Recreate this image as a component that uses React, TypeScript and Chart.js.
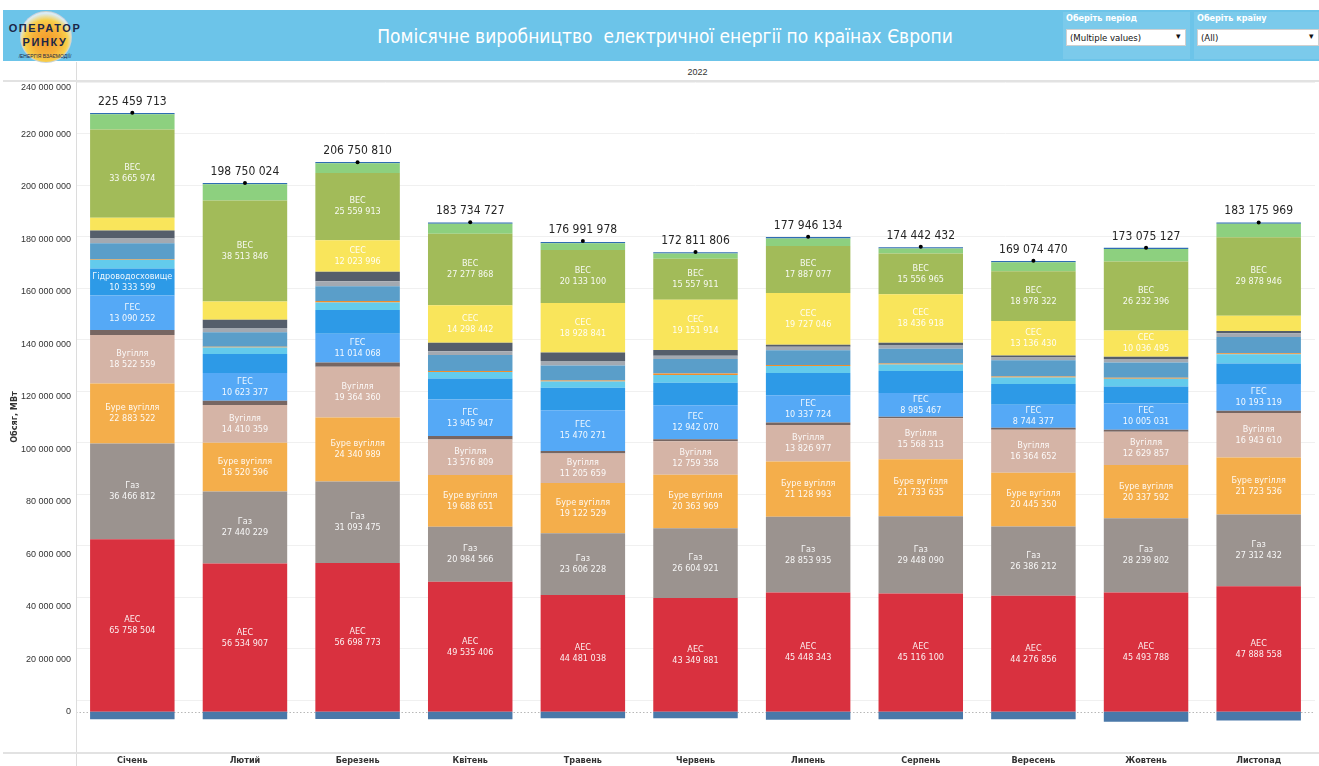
import React, { useEffect, useRef } from "react";
import { Chart, registerables } from "chart.js";

Chart.register(...registerables);

// ---------- DATA ----------
const months = ["Січень", "Лютий", "Березень", "Квітень", "Травень", "Червень", "Липень", "Серпень", "Вересень", "Жовтень", "Листопад"];
const totals = [225459713, 198750024, 206750810, 183734727, 176991978, 172811806, 177946134, 174442432, 169074470, 173075127, 183175969];

const aes = [65758504, 56534907, 56698773, 49535406, 44481038, 43349881, 45448343, 45116100, 44276856, 45493788, 47888558];
const gas = [36466812, 27440229, 31093475, 20984566, 23606228, 26604921, 28853935, 29448090, 26386212, 28239802, 27312432];
const lignite = [22883522, 18520596, 24340989, 19688651, 19122529, 20363969, 21128993, 21733635, 20445350, 20337592, 21723536];
const coal = [18522559, 14410359, 19364360, 13576809, 11205659, 12759358, 13826977, 15568313, 16364652, 12629857, 16943610];
const oil = [1900000, 1600000, 1600000, 1300000, 1000000, 800000, 1000000, 600000, 800000, 800000, 900000];
const hydro = [13090252, 10623377, 11014068, 13945947, 15470271, 12942070, 10337724, 8985467, 8744377, 10005031, 10193119];
const reservoir = [10333599, 7200000, 9000000, 8000000, 8600000, 8600000, 8500000, 8400000, 7900000, 6500000, 7800000];
const pumped = [3300000, 2500000, 2900000, 2500000, 2400000, 2900000, 2700000, 2500000, 2500000, 2900000, 3500000];
const geothermal = [300000, 300000, 500000, 300000, 400000, 600000, 400000, 400000, 400000, 400000, 400000];
const biomass = [6000000, 5500000, 5700000, 6100000, 5700000, 5500000, 5600000, 5600000, 6200000, 5800000, 6200000];
const waste = [1800000, 1600000, 1900000, 1500000, 1700000, 1300000, 1300000, 1400000, 1000000, 1300000, 1400000];
const otherFossil = [3100000, 3200000, 3600000, 3200000, 3200000, 2200000, 800000, 900000, 800000, 900000, 900000];
const solar = [4800000, 6900000, 12023996, 14298442, 18928841, 19151914, 19727046, 18436918, 13136430, 10036495, 5800000];
const wind = [33665974, 38513846, 25559913, 27277868, 20133100, 15557911, 17887077, 15556965, 18978322, 26232396, 29878946];
const windOffshore = [5800000, 6200000, 3700000, 3800000, 2600000, 2000000, 2900000, 1900000, 3400000, 4800000, 5100000];
const other = [500000, 500000, 500000, 500000, 500000, 500000, 500000, 500000, 500000, 500000, 500000];
const storageConsumption = [-2800000, -2800000, -2700000, -2800000, -2400000, -2400000, -3050000, -2800000, -2800000, -3800000, -3300000];

const yTicks = [0, 20000000, 40000000, 60000000, 80000000, 100000000, 120000000, 140000000, 160000000, 180000000, 200000000, 220000000, 240000000];

const NARROW = "'Liberation Sans Narrow', 'DejaVu Sans Condensed', 'Noto Sans', sans-serif";
const SANS = "'Liberation Sans', Arial, sans-serif";

const fmt = (v: number) => Math.round(v).toString().replace(/\B(?=(\d{3})+(?!\d))/g, " ");

type SeriesDef = { name: string; data: number[]; color: string; label?: string; labelMin?: number };

const series: SeriesDef[] = [
  { name: "Споживання ГАЕС", data: storageConsumption, color: "#4a78a9" },
  { name: "АЕС", data: aes, color: "#d9313f", label: "АЕС", labelMin: 8500000 },
  { name: "Газ", data: gas, color: "#9b938f", label: "Газ", labelMin: 8500000 },
  { name: "Буре вугілля", data: lignite, color: "#f4ae4b", label: "Буре вугілля", labelMin: 8500000 },
  { name: "Вугілля", data: coal, color: "#d5b4a6", label: "Вугілля", labelMin: 8500000 },
  { name: "Нафта", data: oil, color: "#776662" },
  { name: "ГЕС", data: hydro, color: "#55a9f6", label: "ГЕС", labelMin: 8500000 },
  { name: "Гідроводосховище", data: reservoir, color: "#2d9ae7", label: "Гідроводосховище", labelMin: 10000000 },
  { name: "ГАЕС", data: pumped, color: "#63cbec" },
  { name: "Геотермальні", data: geothermal, color: "#f28e2b" },
  { name: "Біомаса", data: biomass, color: "#5a9ec9" },
  { name: "Відходи", data: waste, color: "#a3a9b1" },
  { name: "Інше викопне", data: otherFossil, color: "#555e6b" },
  { name: "СЕС", data: solar, color: "#f9e55b", label: "СЕС", labelMin: 8500000 },
  { name: "ВЕС", data: wind, color: "#a2bb59", label: "ВЕС", labelMin: 8500000 },
  { name: "ВЕС офшор", data: windOffshore, color: "#8dd07f" },
  { name: "Інше", data: other, color: "#2f6db3" },
];

const segLabelPlugin = {
  id: "segLabels",
  afterDatasetsDraw(chart: any) {
    const ctx = chart.ctx;
    ctx.save();
    ctx.textAlign = "center";
    ctx.textBaseline = "middle";
    ctx.fillStyle = "rgba(255,255,255,0.92)";
    ctx.font = `9px ${NARROW}`;
    chart.data.datasets.forEach((ds: any, i: number) => {
      if (!ds.segLabel) return;
      const meta = chart.getDatasetMeta(i);
      meta.data.forEach((el: any, j: number) => {
        const v = ds.data[j];
        if (v < ds.segLabelMin) return;
        const p = el.getProps(["x", "y", "base"], true);
        const cy = (p.y + p.base) / 2;
        ctx.fillText(ds.segLabel, p.x, cy - 5.5);
        ctx.fillText(fmt(v), p.x, cy + 5.5);
      });
    });
    // totals
    const dotIdx = chart.data.datasets.findIndex((d: any) => d.isDots);
    if (dotIdx >= 0) {
      const meta = chart.getDatasetMeta(dotIdx);
      ctx.fillStyle = "#262626";
      ctx.font = `12px ${NARROW}`;
      ctx.textBaseline = "alphabetic";
      meta.data.forEach((el: any, j: number) => {
        const p = el.getProps(["x", "y"], true);
        ctx.fillText(fmt(totals[j]), p.x, p.y - 8);
      });
    }
    ctx.restore();
  },
  beforeDatasetsDraw(chart: any) {
    const ctx = chart.ctx;
    const y = chart.scales.y;
    const area = chart.chartArea;
    const y0 = y.getPixelForValue(0);
    ctx.save();
    ctx.strokeStyle = "#b8b8b8";
    ctx.lineWidth = 1;
    ctx.setLineDash([1.5, 2]);
    ctx.beginPath();
    ctx.moveTo(area.left, Math.round(y0) + 0.5);
    ctx.lineTo(area.right, Math.round(y0) + 0.5);
    ctx.stroke();
    ctx.restore();
  },
  afterDraw(chart: any) {
    const ctx = chart.ctx;
    const y = chart.scales.y;
    const area = chart.chartArea;
    ctx.save();
    // y tick labels
    ctx.fillStyle = "#333333";
    ctx.font = `9px ${SANS}`;
    ctx.textAlign = "right";
    ctx.textBaseline = "middle";
    yTicks.forEach((t) => {
      let py = y.getPixelForValue(t);
      py = Math.max(py, area.top + 6);
      ctx.fillText(fmt(t), 71, py);
    });
    // axis title
    ctx.save();
    ctx.translate(15, (area.top + area.bottom) / 2);
    ctx.rotate(-Math.PI / 2);
    ctx.textAlign = "center";
    ctx.font = `bold 9px ${NARROW}`;
    ctx.fillText("Обсяг, МВт", 0, 0);
    ctx.restore();
    // axis lines
    ctx.strokeStyle = "#dcdcdc";
    ctx.lineWidth = 1;
    ctx.beginPath();
    ctx.moveTo(area.left + 0.5, 0);
    ctx.lineTo(area.left + 0.5, chart.height);
    ctx.stroke();
    ctx.strokeStyle = "#e2e2e2";
    ctx.lineWidth = 2;
    ctx.beginPath();
    ctx.moveTo(3, area.bottom + 1);
    ctx.lineTo(chart.width, area.bottom + 1);
    ctx.moveTo(3, area.top - 1);
    ctx.lineTo(chart.width, area.top - 1);
    ctx.stroke();
    ctx.restore();
  },
};

function ChartView() {
  const ref = useRef<HTMLCanvasElement | null>(null);
  useEffect(() => {
    if (!ref.current) return;
    const datasets: any[] = series.map((s) => ({
      type: "bar",
      label: s.name,
      data: s.data,
      backgroundColor: s.color,
      borderWidth: 0,
      stack: "main",
      order: 1,
      barPercentage: 0.75,
      categoryPercentage: 1.0,
      segLabel: s.label,
      segLabelMin: s.labelMin,
    }));
    datasets.push({
      type: "line",
      label: "Всього",
      data: totals.map((t, i) => t - storageConsumption[i]),
      stack: "dots",
      order: 0,
      showLine: false,
      pointRadius: 2,
      pointBackgroundColor: "#000",
      pointBorderColor: "#000",
      pointBorderWidth: 0,
      isDots: true,
    });
    const chart = new Chart(ref.current, {
      type: "bar",
      data: { labels: months, datasets },
      options: {
        responsive: false,
        animation: false,
        layout: { padding: { top: 20, left: 0, right: 0, bottom: 0 } },
        plugins: { legend: { display: false }, tooltip: { enabled: false } },
        scales: {
          x: {
            stacked: true,
            grid: { display: false, drawTicks: false },
            border: { display: false },
            ticks: {
              color: "#333333",
              font: { family: NARROW, size: 9, weight: "bold" },
              padding: 3,
              maxRotation: 0,
              autoSkip: false,
            },
            afterFit: (s: any) => {
              s.height = 14;
            },
          },
          y: {
            stacked: true,
            min: -15300000,
            max: 240000000,
            ticks: { display: false, stepSize: 20000000 },
            grid: {
              color: (c: any) => (c.tick && c.tick.value > 0 ? "#f0f0f0" : "rgba(0,0,0,0)"),
              drawTicks: false,
            },
            border: { display: false },
            afterFit: (s: any) => {
              s.width = 76;
            },
          },
        },
      } as any,
      plugins: [segLabelPlugin],
    });
    return () => chart.destroy();
  }, []);
  return <canvas ref={ref} width={1319} height={704} style={{ width: 1319, height: 704, display: "block" }} />;
}

export default function App() {
  return (
    <div style={{ position: "absolute", left: 0, top: 0, width: 1319, height: 766, background: "#fff", overflow: "hidden", fontFamily: SANS }}>
      {/* header band */}
      <div style={{ position: "absolute", left: 3, top: 10, width: 1316, height: 51, background: "#6cc4e9" }} />
      {/* logo */}
      <div style={{ position: "absolute", left: 20, top: 11, width: 50, height: 50, borderRadius: "50%", border: "1px solid rgba(200,210,220,0.9)", background: "radial-gradient(circle at 50% 58%, #f39a2a 0%, #f6b13a 35%, #f8cf4a 55%, rgba(230,240,245,0.9) 72%)" }} />
      <div style={{ position: "absolute", left: 4, top: 22, width: 82, textAlign: "center", fontSize: 11, fontWeight: "bold", color: "#1c2747", letterSpacing: 1.6, fontFamily: SANS }}>ОПЕРАТОР</div>
      <div style={{ position: "absolute", left: 4, top: 36, width: 82, textAlign: "center", fontSize: 11, fontWeight: "bold", color: "#1c2747", letterSpacing: 1.6, fontFamily: SANS }}>РИНКУ</div>
      <div style={{ position: "absolute", left: 4, top: 53, width: 82, textAlign: "center", fontSize: 5, color: "#1c2747", fontFamily: SANS, whiteSpace: "nowrap" }}>/ЕНЕРГІЯ ВЗАЄМОДІЇ/</div>
      {/* title */}
      <div style={{ position: "absolute", left: 265, top: 25, width: 800, textAlign: "center", fontSize: 19, color: "#ffffff", fontFamily: NARROW, whiteSpace: "pre" }}>
        {"Помісячне виробництво  електричної енергії по країнах Європи"}
      </div>
      {/* filters */}
      <div style={{ position: "absolute", left: 1063, top: 12, width: 127, height: 47, background: "rgba(255,255,255,0.1)" }} />
      <div style={{ position: "absolute", left: 1194, top: 12, width: 125, height: 47, background: "rgba(255,255,255,0.1)" }} />
      <div style={{ position: "absolute", left: 1066, top: 13, fontSize: 9, fontWeight: "bold", color: "#ffffff", fontFamily: NARROW }}>Оберіть період</div>
      <div style={{ position: "absolute", left: 1197, top: 13, fontSize: 9, fontWeight: "bold", color: "#ffffff", fontFamily: NARROW }}>Оберіть країну</div>
      <div style={{ position: "absolute", left: 1066, top: 29, width: 120, height: 17, background: "#fff", boxSizing: "border-box", border: "1px solid #d0d0d0" }}>
        <span style={{ position: "absolute", left: 3, top: 2, fontSize: 9.5, color: "#111", fontFamily: NARROW }}>(Multiple values)</span>
        <span style={{ position: "absolute", right: 4, top: 1, fontSize: 9, color: "#111" }}>▾</span>
      </div>
      <div style={{ position: "absolute", left: 1197, top: 29, width: 122, height: 17, background: "#fff", boxSizing: "border-box", border: "1px solid #d0d0d0" }}>
        <span style={{ position: "absolute", left: 3, top: 2, fontSize: 9.5, color: "#111", fontFamily: NARROW }}>(All)</span>
        <span style={{ position: "absolute", right: 4, top: 1, fontSize: 9, color: "#111" }}>▾</span>
      </div>
      {/* year header */}
      <div style={{ position: "absolute", left: 76, top: 67, width: 1243, textAlign: "center", fontSize: 9, color: "#333", fontFamily: SANS }}>2022</div>
      <div style={{ position: "absolute", left: 0, top: 62 }}>
        <ChartView />
      </div>
    </div>
  );
}
